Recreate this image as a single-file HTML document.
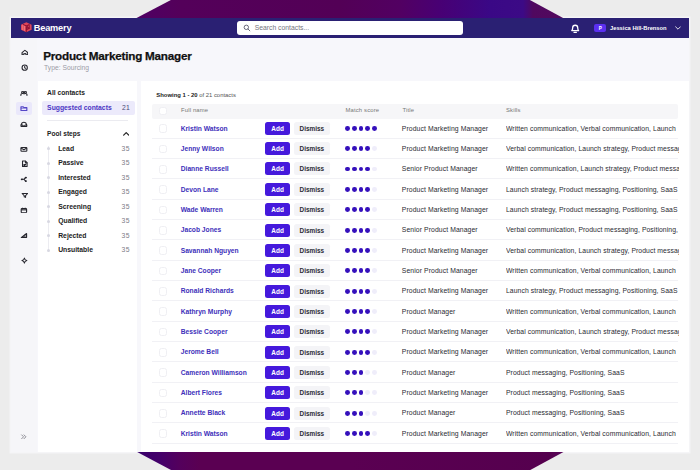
<!DOCTYPE html>
<html lang="en"><head><meta charset="utf-8"><title>Product Marketing Manager</title>
<style>
*{margin:0;padding:0;box-sizing:border-box}
html,body{width:700px;height:470px;overflow:hidden}
body{background:#ececec;font-family:"Liberation Sans",sans-serif;position:relative;color:#1a1a22}
.hex{position:absolute;left:0;top:0}
.win{position:absolute;left:11px;top:18px;width:678.4px;height:433.5px;background:#f7f7fb;overflow:hidden;}
.nav{position:absolute;left:0;top:0;width:100%;height:19.7px;background:#2a2073}
.logo{position:absolute;left:8.5px;top:4.4px}
.brand{position:absolute;left:22.7px;top:3.6px;font-size:9.2px;font-weight:bold;color:#fff;letter-spacing:-.15px;line-height:12px}
.search{position:absolute;left:225.7px;top:3.2px;width:226.8px;height:13.7px;background:#fff;border-radius:3px}
.search svg{position:absolute;left:6px;top:3px}
.search span{position:absolute;left:18px;top:3.3px;font-size:6.8px;color:#74747e;line-height:8px;white-space:nowrap}
.bell{position:absolute;left:559px;top:4.6px}
.avatar{position:absolute;left:583.4px;top:5.6px;width:11.6px;height:8.8px;border-radius:2px;background:#5b2ff0;color:#fff;font-size:4.6px;font-weight:bold;text-align:center;line-height:9px}
.uname{position:absolute;left:599px;top:6px;font-size:5.75px;font-weight:bold;color:#fff;line-height:8px;white-space:nowrap}
.chev{position:absolute;left:664px;top:8.3px}
.side{position:absolute;left:0;top:19.7px;width:26.4px;bottom:0;background:#f6f6f9}
.side svg{position:absolute}
.side .act{position:absolute;left:5.3px;top:63.9px;width:16.2px;height:13.4px;background:#eae8fb;border-radius:2px}
.title{position:absolute;left:32.2px;top:30.3px;font-size:11.7px;font-weight:bold;color:#111;line-height:15px;white-space:nowrap;letter-spacing:-.22px;-webkit-text-stroke:.25px #111}
.sub{position:absolute;left:33px;top:45.6px;font-size:6.75px;color:#9c9ca6;line-height:8px;white-space:nowrap}
.lp{position:absolute;left:26.5px;top:62px;width:99.8px;bottom:0;background:#fff}
.allc{position:absolute;left:9.6px;top:9.2px;font-size:6.7px;font-weight:bold;color:#222;line-height:8px;white-space:nowrap}
.sugg{position:absolute;left:4.1px;top:20.6px;width:93.6px;height:14.8px;background:#eceafb;border-radius:2px}
.sugg span{position:absolute;left:5.5px;top:3.7px;font-size:6.8px;font-weight:bold;color:#4a35c4;line-height:8px;white-space:nowrap}
.sugg b{position:absolute;left:80.4px;top:3.7px;font-size:6.8px;font-weight:normal;color:#4a4a78;line-height:8px;letter-spacing:.3px}
.div{position:absolute;left:9.5px;top:40.2px;width:81px;height:1px;background:#ebebf0}
.pool{position:absolute;left:9.6px;top:50.3px;font-size:6.6px;font-weight:bold;color:#222;line-height:8px;white-space:nowrap}
.pchev{position:absolute;left:85.4px;top:51.8px}
.vline{position:absolute;left:10.4px;top:66px;width:1px;height:106px;background:#ececf1}
.step{position:absolute;left:0;width:100%;height:10px}
.step i{position:absolute;left:9.4px;top:3.5px;width:3px;height:3px;border-radius:50%;background:#d8d8e2}
.step span{position:absolute;left:20.7px;top:1px;font-size:6.8px;font-weight:bold;color:#222;line-height:8px;white-space:nowrap}
.step em{position:absolute;left:84.100px;top:1px;font-size:6.8px;font-style:normal;color:#7c7c86;line-height:8px;letter-spacing:.5px}
.tp{position:absolute;left:129.500px;top:62px;right:0;bottom:0;background:#fff}
.showing{position:absolute;left:15.800px;top:11.500px;font-size:5.9px;color:#555;line-height:7px;white-space:nowrap}
.showing b{color:#222}
.thead{position:absolute;left:11px;top:24px;width:526.5px;height:14.5px;background:#f6f6f8;border-radius:2px;font-size:5.9px;letter-spacing:.15px;color:#777}
.thead span{position:absolute;top:3.3px;line-height:7px;white-space:nowrap}
.cb{position:absolute;left:7px;width:8.5px;height:8.5px;border:1px solid #efeff3;border-radius:2.500px;background:#fff}
.thead .cb{top:2.800px}
.c1{left:29.5px}.c2{left:194px}.c3{left:251px}.c4{left:354.5px}
.row{position:absolute;left:11px;width:526.5px;height:20.335px;border-bottom:1px solid #f1f1f5;font-size:6.6px}
.row .cb{top:6.2px}
.row>*{white-space:nowrap}
.nm{position:absolute;left:29.2px;top:6.500px;line-height:8px;color:#4030ba;font-weight:bold;font-size:6.7px}
.add{position:absolute;left:113.900px;top:3.6px;width:24.4px;height:13px;background:#4519dc;color:#fff;border-radius:2.5px;font-weight:bold;font-size:6.4px;text-align:center;line-height:13.1px}
.dis{position:absolute;left:142.400px;top:3.6px;width:35.8px;height:13px;background:#f4f4f7;color:#2a2a34;border-radius:2.5px;font-weight:bold;font-size:6.4px;text-align:center;line-height:13.1px}
.dots{position:absolute;left:193.9px;top:7.800px;height:4.8px;display:flex;gap:1.85px}
.dots u{display:block;width:4.8px;height:4.8px;border-radius:50%}
.dots .on{background:#3510bc}
.dots .off{background:#efedfa}
.tt{position:absolute;left:250.3px;top:6.500px;line-height:8px;color:#2a2a32;font-size:6.8px;letter-spacing:.1px}
.sk{position:absolute;left:354.5px;top:6.500px;line-height:8px;color:#2a2a32;width:172.5px;overflow:hidden;font-size:6.8px;letter-spacing:.08px}
.strip{position:absolute;left:26.4px;right:0;top:62px;height:.9px;background:#f7f7fb}
.halo{position:absolute;left:11px;top:18px;width:678.4px;height:433.5px;box-shadow:0 0 0 1.5px rgba(248,248,250,.8)}

</style></head>
<body>
<div class="halo"></div>
<svg class="hex" width="700" height="470" viewBox="0 0 700 470">
<defs>
<linearGradient id="gt" gradientUnits="userSpaceOnUse" x1="100" y1="0" x2="600" y2="0">
<stop offset="0.07" stop-color="#4e0064"/><stop offset="0.16" stop-color="#54005a"/><stop offset="0.48" stop-color="#530056"/><stop offset="0.60" stop-color="#520062"/><stop offset="0.68" stop-color="#480074"/><stop offset="0.78" stop-color="#3a0886"/><stop offset="0.846" stop-color="#3c0a86"/><stop offset="0.866" stop-color="#50085f"/><stop offset="1" stop-color="#560a5c"/>
</linearGradient>
<linearGradient id="gb" gradientUnits="userSpaceOnUse" x1="100" y1="0" x2="600" y2="0">
<stop offset="0.07" stop-color="#36006a"/><stop offset="0.12" stop-color="#44006a"/><stop offset="0.16" stop-color="#54005c"/><stop offset="0.2" stop-color="#5a0052"/><stop offset="0.5" stop-color="#5a0052"/><stop offset="0.9" stop-color="#55004e"/><stop offset="0.94" stop-color="#5a0860"/>
</linearGradient>
</defs>
<polygon points="170.9,0 529.9,0 600,38 600,100 98.3,100 98.3,38" fill="url(#gt)"/>
<polygon points="99.6,380 600.4,380 600.4,432 530.3,470 171,470 99.6,432" fill="url(#gb)"/>
</svg>
<div class="win">
<div class="nav">
<svg class="logo" viewBox="0 0 24 21" width="12.6" height="10.6"><path d="M12 .5 22.500 5.500V15.500L12 20.500 1.500 15.500V5.500Z" fill="#df4658"/><path d="M5 5.800V16M8.400 7.200V17.500" stroke="#f4868c" stroke-width="1.500"/><path d="M12 9.500V20M5.500 4.800 12 8l6.500-3.200M12 15.500 19 12" stroke="#8a1032" stroke-width="2" fill="none"/><path d="M12 8.500 19 6v5.500L12 14Z" fill="#8a1032" opacity=".85"/><path d="M14.500 9.500 17.500 8.500v1.500Z" fill="#f06a74"/></svg>
<span class="brand">Beamery</span>
<div class="search"><svg viewBox="0 0 12 12" width="8" height="8"><circle cx="5" cy="5" r="3.3" fill="none" stroke="#55556a" stroke-width="1.3"/><path d="M7.5 7.5l2.8 2.8" stroke="#55556a" stroke-width="1.3" stroke-linecap="round"/></svg><span>Search contacts...</span></div>
<svg class="bell" viewBox="0 0 12 12" width="10.4" height="10.4"><path d="M2 8.800c.9-.8 1.100-1.800 1.100-3.300a2.900 2.900 0 0 1 5.800 0c0 1.500.2 2.500 1.100 3.300Z" fill="none" stroke="#fff" stroke-width="1.500" stroke-linejoin="round"/><path d="M4.600 10.800h2.800" stroke="#fff" stroke-width="1.400" stroke-linecap="round"/></svg>
<div class="avatar">P</div>
<span class="uname">Jessica Hill-Brenson</span>
<svg class="chev" viewBox="0 0 10 6" width="6" height="4"><path d="M1 1l4 4 4-4" fill="none" stroke="#fff" stroke-width="1.400" stroke-linecap="round" stroke-linejoin="round"/></svg>
</div>
<div class="side">
<div class="act"></div>
<svg viewBox="0 0 16 16" preserveAspectRatio="none" width="7.8" height="6.7" style="left:9.50px;top:11.55px"><path d="M2.200 8.500 8 3l5.800 5.500v5H10v-3H6v3H2.200Z" fill="none" stroke="#26262e" stroke-width="2.300" stroke-linejoin="round" stroke-linecap="round"/></svg>
<svg viewBox="0 0 16 16" preserveAspectRatio="none" width="7.4" height="7.4" style="left:9.50px;top:26.40px"><circle cx="8" cy="8" r="5.700" fill="none" stroke="#26262e" stroke-width="2.300" stroke-linejoin="round" stroke-linecap="round"/><path d="M8 5v3.200l2 1.200" fill="none" stroke="#26262e" stroke-width="2.300" stroke-linejoin="round" stroke-linecap="round"/></svg>
<svg viewBox="0 0 16 16" preserveAspectRatio="none" width="7.8" height="6.7" style="left:9.30px;top:52.05px"><circle cx="5.500" cy="5.500" r="2.200" fill="none" stroke="#26262e" stroke-width="2.300" stroke-linejoin="round" stroke-linecap="round"/><circle cx="11" cy="5.500" r="2.200" fill="none" stroke="#26262e" stroke-width="2.300" stroke-linejoin="round" stroke-linecap="round"/><path d="M1.800 13v-1.500a3 3 0 0 1 3-3h1.500a3 3 0 0 1 2 .8 3 3 0 0 1 2-.8h1a3 3 0 0 1 3 3V13" fill="none" stroke="#26262e" stroke-width="2.300" stroke-linejoin="round" stroke-linecap="round"/></svg>
<svg viewBox="0 0 16 16" preserveAspectRatio="none" width="7.8" height="6.7" style="left:9.30px;top:67.15px"><path d="M2 4h4.200l1.600 2H14v7H2Z" fill="none" stroke="#5546c6" stroke-width="2.400" stroke-linejoin="round"/><path d="M2 7.500h12" stroke="#5546c6" stroke-width="1.800"/></svg>
<svg viewBox="0 0 16 16" preserveAspectRatio="none" width="7.8" height="6.7" style="left:9.30px;top:82.95px"><path d="M2.200 9.500V13.200H13.800V9.500L11.800 4.500a6 6 0 0 0-7.600 0Z" fill="none" stroke="#26262e" stroke-width="2.300" stroke-linejoin="round" stroke-linecap="round"/><path d="M2.200 9.500H5.500a2.500 2.500 0 0 0 5 0H13.800" fill="none" stroke="#26262e" stroke-width="2.300" stroke-linejoin="round" stroke-linecap="round"/></svg>
<svg viewBox="0 0 16 16" preserveAspectRatio="none" width="7.8" height="6.7" style="left:9.30px;top:108.05px"><rect x="2" y="3.800" width="12" height="8.800" rx="1.500" fill="none" stroke="#26262e" stroke-width="2.300" stroke-linejoin="round" stroke-linecap="round"/><path d="M2.500 5l5.500 4 5.500-4" fill="none" stroke="#26262e" stroke-width="2.300" stroke-linejoin="round" stroke-linecap="round"/></svg>
<svg viewBox="0 0 16 16" preserveAspectRatio="none" width="7.6" height="7.6" style="left:9.60px;top:122.70px"><path d="M3.200 2.200H9.500L12.800 5.500V13.800H3.200Z" fill="none" stroke="#26262e" stroke-width="2.300" stroke-linejoin="round" stroke-linecap="round"/><path d="M9.300 2.500V6H12.500M6 9.500h4M6 11.500h2.500" fill="none" stroke="#26262e" stroke-width="2.300" stroke-linejoin="round" stroke-linecap="round"/></svg>
<svg viewBox="0 0 16 16" preserveAspectRatio="none" width="7.8" height="6.7" style="left:9.20px;top:138.65px"><circle cx="3.800" cy="8" r="2.300" fill="#26262e"/><circle cx="12" cy="3.800" r="2.300" fill="#26262e"/><circle cx="12" cy="12.200" r="2.300" fill="#26262e"/><path d="M3.800 8H8L11.500 4M8 8l3.500 4" fill="none" stroke="#26262e" stroke-width="2.300" stroke-linejoin="round" stroke-linecap="round"/></svg>
<svg viewBox="0 0 16 16" preserveAspectRatio="none" width="7.8" height="6.7" style="left:9.50px;top:154.25px"><path d="M2.500 3.500H13.500L9.300 9v4l-2.600-1.300V9Z" fill="none" stroke="#26262e" stroke-width="2.300" stroke-linejoin="round" stroke-linecap="round"/></svg>
<svg viewBox="0 0 16 16" preserveAspectRatio="none" width="7.8" height="6.7" style="left:9.20px;top:169.35px"><rect x="2.500" y="3.800" width="11" height="9.700" rx="1.500" fill="none" stroke="#26262e" stroke-width="2.300" stroke-linejoin="round" stroke-linecap="round"/><path d="M2.500 6.800h11" stroke="#26262e" stroke-width="2.600"/><path d="M5.500 2.200v2.500M10.500 2.200v2.500" fill="none" stroke="#26262e" stroke-width="2.300" stroke-linejoin="round" stroke-linecap="round"/></svg>
<svg viewBox="0 0 16 16" preserveAspectRatio="none" width="7.8" height="6.7" style="left:9.40px;top:194.25px"><path d="M2.500 13.200H13.500V3.500Z" fill="none" stroke="#26262e" stroke-width="2.300" stroke-linejoin="round" stroke-linecap="round"/><path d="M6.500 13V10M10 13V7" fill="none" stroke="#26262e" stroke-width="2.300" stroke-linejoin="round" stroke-linecap="round"/></svg>
<svg viewBox="0 0 16 16" preserveAspectRatio="none" width="6.8" height="7.1" style="left:9.90px;top:219.73px"><path d="M8 2.200c.6 3.400 2.400 5.200 5.800 5.800-3.400.6-5.200 2.400-5.800 5.800-.6-3.400-2.400-5.200-5.800-5.800 3.400-.6 5.200-2.400 5.800-5.800Z" fill="none" stroke="#26262e" stroke-width="2.300" stroke-linejoin="round" stroke-linecap="round"/></svg>
<svg viewBox="0 0 16 16" preserveAspectRatio="none" width="7.6" height="7.6" style="left:9.40px;top:395.50px"><path d="M3.500 4l4 4-4 4M8.500 4l4 4-4 4" fill="none" stroke="#8a8a92" stroke-width="2" stroke-linecap="round" stroke-linejoin="round"/></svg>
</div>
<div class="title">Product Marketing Manager</div>
<div class="sub">Type: Sourcing</div>
<div class="lp">
<div class="allc">All contacts</div>
<div class="sugg"><span>Suggested contacts</span><b>21</b></div>
<div class="div"></div>
<div class="pool">Pool steps</div>
<svg class="pchev" viewBox="0 0 10 6" width="6.4" height="3.8"><path d="M1 5l4-4 4 4" fill="none" stroke="#222" stroke-width="1.900" stroke-linecap="round" stroke-linejoin="round"/></svg>
<div class="vline"></div>
<div class="step" style="top:63.90px"><i></i><span>Lead</span><em>35</em></div>
<div class="step" style="top:78.40px"><i></i><span>Passive</span><em>35</em></div>
<div class="step" style="top:92.90px"><i></i><span>Interested</span><em>35</em></div>
<div class="step" style="top:107.40px"><i></i><span>Engaged</span><em>35</em></div>
<div class="step" style="top:121.90px"><i></i><span>Screening</span><em>35</em></div>
<div class="step" style="top:136.40px"><i></i><span>Qualified</span><em>35</em></div>
<div class="step" style="top:150.90px"><i></i><span>Rejected</span><em>35</em></div>
<div class="step" style="top:165.40px"><i></i><span>Unsuitable</span><em>35</em></div>
</div>
<div class="tp">
<div class="showing"><b>Showing 1 - 20</b> of 21 contacts</div>
<div class="thead"><i class="cb"></i><span class="c1">Full name</span><span class="c2">Match score</span><span class="c3">Title</span><span class="c4">Skills</span></div>
<div class="row" style="top:38.23px"><i class="cb"></i><a class="nm">Kristin Watson</a><span class="add">Add</span><span class="dis">Dismiss</span><span class="dots"><u class="on"></u><u class="on"></u><u class="on"></u><u class="on"></u><u class="on"></u></span><span class="tt">Product Marketing Manager</span><span class="sk">Written communication, Verbal communication, Launch</span></div>
<div class="row" style="top:58.57px"><i class="cb"></i><a class="nm">Jenny Wilson</a><span class="add">Add</span><span class="dis">Dismiss</span><span class="dots"><u class="on"></u><u class="on"></u><u class="on"></u><u class="on"></u><u class="off"></u></span><span class="tt">Product Marketing Manager</span><span class="sk">Verbal communication, Launch strategy, Product messaging</span></div>
<div class="row" style="top:78.90px"><i class="cb"></i><a class="nm">Dianne Russell</a><span class="add">Add</span><span class="dis">Dismiss</span><span class="dots"><u class="on"></u><u class="on"></u><u class="on"></u><u class="on"></u><u class="off"></u></span><span class="tt">Senior Product Manager</span><span class="sk">Written communication, Launch strategy, Product messaging</span></div>
<div class="row" style="top:99.23px"><i class="cb"></i><a class="nm">Devon Lane</a><span class="add">Add</span><span class="dis">Dismiss</span><span class="dots"><u class="on"></u><u class="on"></u><u class="on"></u><u class="on"></u><u class="off"></u></span><span class="tt">Product Marketing Manager</span><span class="sk">Launch strategy, Product messaging, Positioning, SaaS</span></div>
<div class="row" style="top:119.57px"><i class="cb"></i><a class="nm">Wade Warren</a><span class="add">Add</span><span class="dis">Dismiss</span><span class="dots"><u class="on"></u><u class="on"></u><u class="on"></u><u class="on"></u><u class="off"></u></span><span class="tt">Product Marketing Manager</span><span class="sk">Launch strategy, Product messaging, Positioning, SaaS</span></div>
<div class="row" style="top:139.91px"><i class="cb"></i><a class="nm">Jacob Jones</a><span class="add">Add</span><span class="dis">Dismiss</span><span class="dots"><u class="on"></u><u class="on"></u><u class="on"></u><u class="on"></u><u class="off"></u></span><span class="tt">Senior Product Manager</span><span class="sk">Verbal communication, Product messaging, Positioning, SaaS</span></div>
<div class="row" style="top:160.24px"><i class="cb"></i><a class="nm">Savannah Nguyen</a><span class="add">Add</span><span class="dis">Dismiss</span><span class="dots"><u class="on"></u><u class="on"></u><u class="on"></u><u class="on"></u><u class="off"></u></span><span class="tt">Product Marketing Manager</span><span class="sk">Verbal communication, Launch strategy, Product messaging</span></div>
<div class="row" style="top:180.58px"><i class="cb"></i><a class="nm">Jane Cooper</a><span class="add">Add</span><span class="dis">Dismiss</span><span class="dots"><u class="on"></u><u class="on"></u><u class="on"></u><u class="on"></u><u class="off"></u></span><span class="tt">Senior Product Manager</span><span class="sk">Written communication, Verbal communication, Launch</span></div>
<div class="row" style="top:200.91px"><i class="cb"></i><a class="nm">Ronald Richards</a><span class="add">Add</span><span class="dis">Dismiss</span><span class="dots"><u class="on"></u><u class="on"></u><u class="on"></u><u class="on"></u><u class="off"></u></span><span class="tt">Product Marketing Manager</span><span class="sk">Launch strategy, Product messaging, Positioning, SaaS</span></div>
<div class="row" style="top:221.25px"><i class="cb"></i><a class="nm">Kathryn Murphy</a><span class="add">Add</span><span class="dis">Dismiss</span><span class="dots"><u class="on"></u><u class="on"></u><u class="on"></u><u class="on"></u><u class="off"></u></span><span class="tt">Product Manager</span><span class="sk">Written communication, Verbal communication, Launch</span></div>
<div class="row" style="top:241.58px"><i class="cb"></i><a class="nm">Bessie Cooper</a><span class="add">Add</span><span class="dis">Dismiss</span><span class="dots"><u class="on"></u><u class="on"></u><u class="on"></u><u class="on"></u><u class="off"></u></span><span class="tt">Product Marketing Manager</span><span class="sk">Verbal communication, Launch strategy, Product messaging</span></div>
<div class="row" style="top:261.92px"><i class="cb"></i><a class="nm">Jerome Bell</a><span class="add">Add</span><span class="dis">Dismiss</span><span class="dots"><u class="on"></u><u class="on"></u><u class="on"></u><u class="on"></u><u class="off"></u></span><span class="tt">Product Marketing Manager</span><span class="sk">Written communication, Verbal communication, Launch</span></div>
<div class="row" style="top:282.25px"><i class="cb"></i><a class="nm">Cameron Williamson</a><span class="add">Add</span><span class="dis">Dismiss</span><span class="dots"><u class="on"></u><u class="on"></u><u class="on"></u><u class="off"></u><u class="off"></u></span><span class="tt">Product Manager</span><span class="sk">Product messaging, Positioning, SaaS</span></div>
<div class="row" style="top:302.58px"><i class="cb"></i><a class="nm">Albert Flores</a><span class="add">Add</span><span class="dis">Dismiss</span><span class="dots"><u class="on"></u><u class="on"></u><u class="on"></u><u class="off"></u><u class="off"></u></span><span class="tt">Product Marketing Manager</span><span class="sk">Product messaging, Positioning, SaaS</span></div>
<div class="row" style="top:322.92px"><i class="cb"></i><a class="nm">Annette Black</a><span class="add">Add</span><span class="dis">Dismiss</span><span class="dots"><u class="on"></u><u class="on"></u><u class="on"></u><u class="off"></u><u class="off"></u></span><span class="tt">Product Manager</span><span class="sk">Product messaging, Positioning, SaaS</span></div>
<div class="row" style="top:343.26px"><i class="cb"></i><a class="nm">Kristin Watson</a><span class="add">Add</span><span class="dis">Dismiss</span><span class="dots"><u class="on"></u><u class="on"></u><u class="on"></u><u class="on"></u><u class="off"></u></span><span class="tt">Product Marketing Manager</span><span class="sk">Written communication, Verbal communication, Launch</span></div>
</div>
<div class="strip"></div>
</div>
</body></html>
